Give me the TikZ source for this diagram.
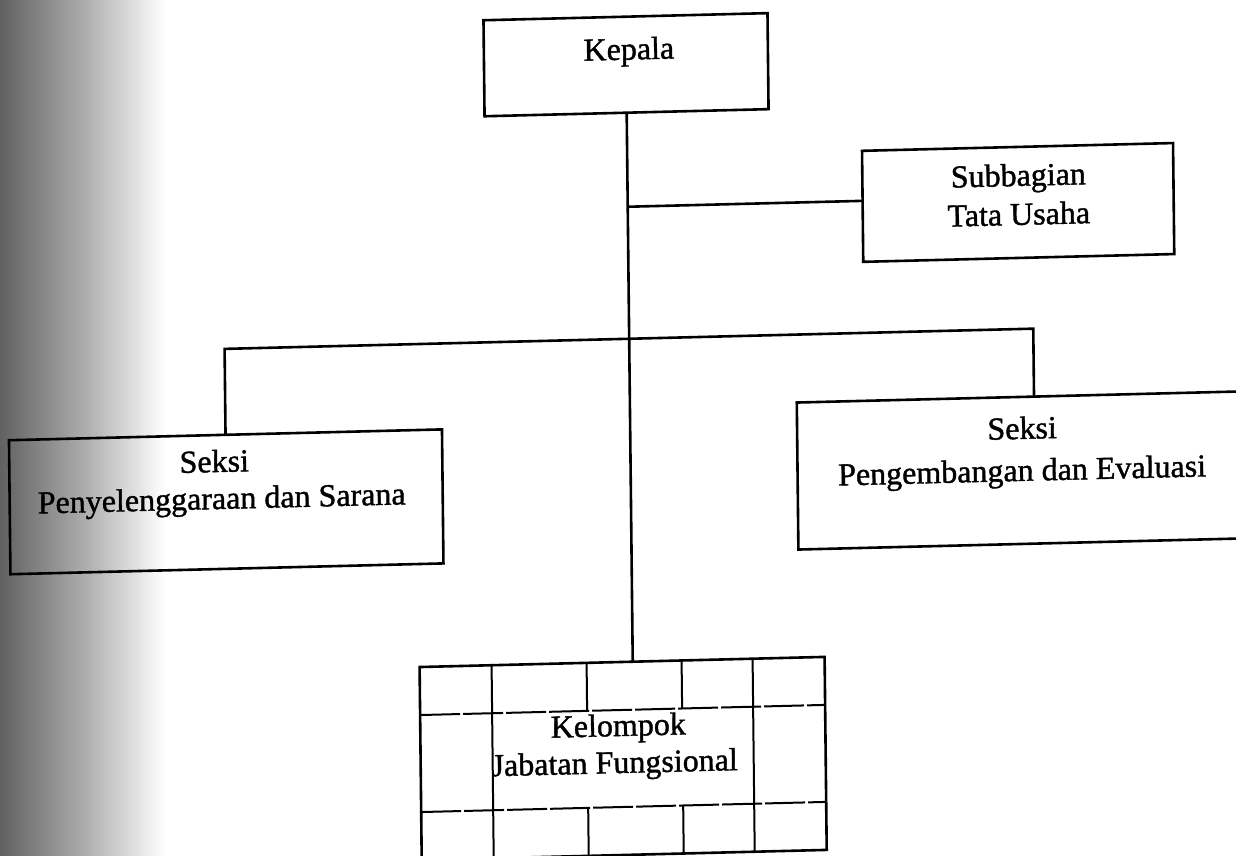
\documentclass[tikz,border=0pt]{standalone}
\usepackage{fontspec}
\setmainfont{Liberation Serif}
\newfontfamily\diagfont{Liberation Serif}[FakeBold=1.2]
\begin{document}
\begin{tikzpicture}[x=1pt,y=-1pt,
  box/.style={draw, line width=2.6pt, inner sep=0pt, outer sep=0pt, transform shape},
  lbl/.style={anchor=base, inner sep=0pt, font=\diagfont\fontsize{32}{38}\selectfont, transform shape},
  conn/.style={line width=2.6pt},
  gridv/.style={line width=2pt},
  gridh/.style={line width=2pt, dash pattern=on 40pt off 3pt}]
\useasboundingbox (0,0) rectangle (1236,855);
\fill[white] (0,0) rectangle (1236,855);
\shade[left color=black!62, right color=white, middle color=black!33] (0,0) rectangle (165,855);
\begin{scope}[shift={(618,427)}, cm={1,0.025,-0.011,1,(0,0)}, shift={(-618,-427)}]
  % boxes
  \node[box, minimum width=284pt, minimum height=96pt] (kepala) at (630,65) {};
  \node[box, minimum width=311pt, minimum height=111pt] (sub) at (1020.5,212.5) {};
  \node[box, minimum width=433pt, minimum height=134pt] (left) at (225.5,492) {};
  \node[box, minimum width=453pt, minimum height=147pt] (right) at (1023.5,480.5) {};
  \node[box, minimum width=405pt, minimum height=193pt] (bottom) at (619.5,758.5) {};
  % labels
  \node[lbl] (tKep) at (633,60) {Kepala};
  \node[lbl] (tSub1) at (1021,196) {Subbagian};
  \node[lbl] (tSub2) at (1021,235) {Tata Usaha};
  \node[lbl] (tL1) at (214,462) {Seksi};
  \node[lbl] (tL2) at (221,499) {Penyelenggaraan dan Sarana};
  \node[lbl] (tR1) at (1022,449) {Seksi};
  \node[lbl] (tR2) at (1021.5,491) {Pengembangan dan Evaluasi};
  \node[lbl] (tB1) at (615,736) {Kelompok};
  \node[lbl] (tB2) at (611,773) {Jabatan Fungsional};
  % grid inside the bottom box
  \draw[gridv] (489,662) -- (489,855);
  \draw[gridv] (750,662) -- (750,855);
  \draw[gridv] (584,662) -- (584,710);
  \draw[gridv] (679,662) -- (679,710);
  \draw[gridv] (584,807) -- (584,855);
  \draw[gridv] (679,807) -- (679,855);
  \draw[gridh] (417,710) -- (822,710);
  \draw[gridh] (417,807) -- (822,807);
  % connectors
  \coordinate (jsub) at (630,207);
  \coordinate (jsubE) at (865,207);
  \coordinate (jbot) at (630,662);
  \coordinate (busL) at (225.5,339);
  \coordinate (busR) at (1034,339);
  \coordinate (rtop) at (1034,407);
  \draw[conn] (kepala.south) -- (jbot);
  \draw[conn] (jsub) -- (jsubE);
  \draw[conn] (left.north) -- (busL) -- (busR) -- (rtop);
\end{scope}
\end{tikzpicture}
\end{document}
